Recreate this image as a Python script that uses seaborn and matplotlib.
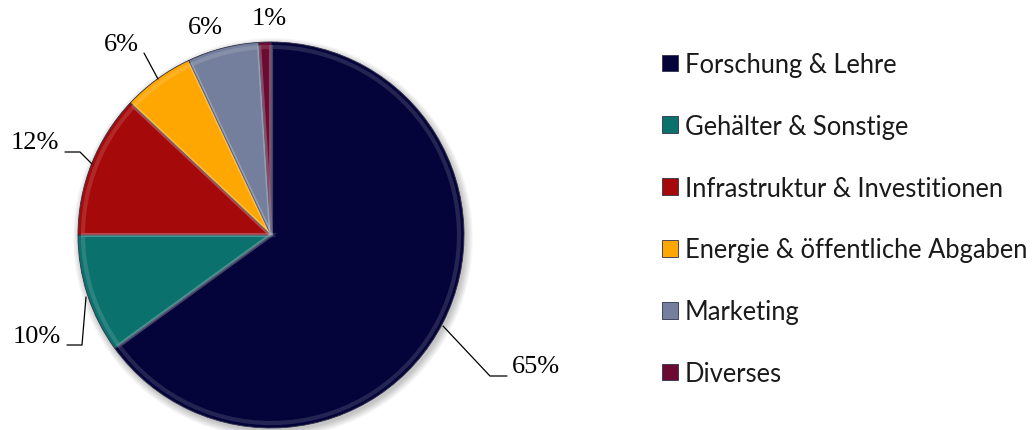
import matplotlib
matplotlib.use("Agg")
import matplotlib.pyplot as plt
import seaborn as sns
from matplotlib.patches import Circle

# data
categories = ["Forschung & Lehre", "Gehälter & Sonstige", "Infrastruktur & Investitionen",
              "Energie & öffentliche Abgaben", "Marketing", "Diverses"]
shares = [65, 10, 12, 6, 6, 1]
pct_labels = ["65%", "10%", "12%", "6%", "6%", "1%"]
colors = ["#04043a", "#0b716d", "#a50909", "#fea602", "#737f9c", "#6b0b31"]

sns.set_style("white")
plt.rcParams["font.family"] = ["Lato", "DejaVu Sans"]

W, H = 1035, 431
fig = plt.figure(figsize=(W / 100, H / 100), dpi=100)
ax = fig.add_axes([0, 0, 1, 1])

cx, cy, r = 271, 431 - 236, 193

# soft drop shadow under the pie
for i in range(10):
    ax.add_patch(Circle((cx + 2, cy - 3), r + 7 - i * 0.8, color="black",
                        alpha=0.025, lw=0, zorder=0))

wedges, _ = ax.pie(shares, colors=colors, startangle=90, counterclock=False,
                   center=(cx, cy), radius=r, frame=True,
                   wedgeprops=dict(linewidth=0.6, edgecolor="#30304a"))
for w in wedges:
    w.set_zorder(2)

# inner bevel: lighter rim just inside each slice
ax.pie(shares, colors=["none"] * len(shares), startangle=90, counterclock=False,
       center=(cx, cy), radius=r - 5, frame=True,
       wedgeprops=dict(linewidth=3, edgecolor=(1, 1, 1, 0.13), zorder=3))

# percentage labels (image pixel positions, y flipped)
lab_pos = [(536, 431 - 367), (37, 431 - 337), (35, 431 - 143),
           (121, 431 - 45), (205, 431 - 28), (269, 431 - 19)]
for (x, y), t in zip(lab_pos, pct_labels):
    ax.text(x, y, t, ha="center", va="center", fontsize=19,
            family=["Liberation Serif", "DejaVu Serif"], color="black", zorder=5)

# leader lines
leaders = [
    ([443, 490, 507], [327, 377, 377]),
    ([67, 82, 86], [346, 346, 298]),
    ([65, 80, 92], [153, 153, 165]),
    ([144, 158], [54, 80]),
]
for xs, ys in leaders:
    ax.plot(xs, [431 - y for y in ys], color="black", lw=0.9, zorder=4)

ax.legend(wedges, categories, loc="upper left", bbox_to_anchor=(662, 431 - 53),
          bbox_transform=ax.transData, frameon=False, fontsize=18.4,
          handlelength=0.63, handleheight=0.63, handletextpad=0.27,
          labelspacing=1.44, borderpad=0, borderaxespad=0,
          labelcolor="#1a1a1a")

ax.set_xlim(0, W)
ax.set_ylim(0, H)
ax.set_aspect("equal")
ax.axis("off")

fig.savefig("out.png", dpi=100)
